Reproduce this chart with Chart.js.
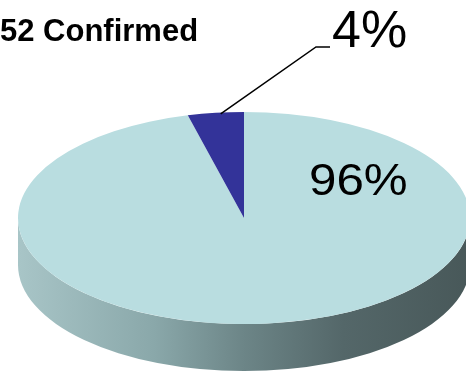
<!DOCTYPE html>
<html>
<head>
<meta charset="utf-8">
<script src="https://cdn.jsdelivr.net/npm/chart.js@4.4.1/dist/chart.umd.min.js"></script>
<style>
  html, body { margin: 0; padding: 0; background: #fff; overflow: hidden; }
  canvas { display: block; }
</style>
</head>
<body>
<canvas id="pie" width="466" height="374"></canvas>
<script>
const categories = ["Not confirmed", "Confirmed"];
const values = [96, 4];
const sliceColors = ["#b9dde0", "#333399"];
const titleText = "52 Confirmed";

// where the flat pie gets laid down as a tilted disc
const DISC = { cx: 244, cy: 218, rx: 226, ry: 106, depth: 47 };

function pct(i) {
  const total = values.reduce((a, b) => a + b, 0);
  return Math.round(values[i] / total * 100) + "%";
}

const tiltPlugin = {
  id: "tilt",
  beforeDatasetsDraw(chart) {
    const ctx = chart.ctx;
    const arc = chart.getDatasetMeta(0).data[0];
    const { cx, cy, rx, ry, depth } = DISC;

    // the rim (front half only)
    ctx.save();
    const grad = ctx.createLinearGradient(cx - rx, 0, cx + rx, 0);
    grad.addColorStop(0, "#a8c5c7");
    grad.addColorStop(0.3, "#8aa8aa");
    grad.addColorStop(0.5, "#6c8587");
    grad.addColorStop(0.72, "#546769");
    grad.addColorStop(1, "#485859");
    ctx.beginPath();
    ctx.ellipse(cx, cy + depth, rx, ry, 0, 0, Math.PI);
    ctx.lineTo(cx - rx, cy);
    ctx.ellipse(cx, cy, rx, ry, 0, Math.PI, 0, true);
    ctx.closePath();
    ctx.fillStyle = grad;
    ctx.fill();
    ctx.restore();

    // squash the pie into the top face
    ctx.save();
    ctx.translate(cx, cy);
    ctx.scale(rx / arc.outerRadius, ry / arc.outerRadius);
    ctx.translate(-arc.x, -arc.y);
  },
  afterDatasetsDraw(chart) {
    const ctx = chart.ctx;
    ctx.restore();

    const { cx, cy, rx, ry } = DISC;
    const small = chart.getDatasetMeta(0).data[1];
    const mid = (small.startAngle + small.endAngle) / 2;
    const sx = cx + rx * Math.cos(mid) + 5;
    const sy = cy + ry * Math.sin(mid) + 1;

    ctx.save();
    ctx.strokeStyle = "#000";
    ctx.lineWidth = 1.5;
    ctx.beginPath();
    ctx.moveTo(sx, sy);
    ctx.lineTo(316, 47);
    ctx.lineTo(330, 47);
    ctx.stroke();

    ctx.fillStyle = "#000";
    ctx.textAlign = "left";
    ctx.textBaseline = "alphabetic";
    ctx.font = "52px 'Liberation Sans', Arial, sans-serif";
    ctx.fillText(pct(1), 332, 47);

    // the big label is a little wider than the font in the original
    ctx.font = "44px 'Liberation Sans', Arial, sans-serif";
    ctx.translate(309, 195);
    ctx.scale(1.12, 1);
    ctx.fillText(pct(0), 0, 0);
    ctx.restore();
  }
};

new Chart(document.getElementById("pie"), {
  type: "pie",
  data: {
    labels: categories,
    datasets: [{
      data: values,
      backgroundColor: sliceColors,
      borderWidth: 0,
      clip: false
    }]
  },
  options: {
    responsive: false,
    animation: false,
    events: [],
    layout: { padding: 0 },
    plugins: {
      legend: { display: false },
      tooltip: { enabled: false },
      title: {
        display: true,
        text: titleText,
        align: "start",
        color: "#000",
        font: { family: "'Liberation Sans', Arial, sans-serif", size: 31, weight: "bold" },
        padding: { top: 14, bottom: 0 }
      }
    }
  },
  plugins: [tiltPlugin]
});
</script>
</body>
</html>
